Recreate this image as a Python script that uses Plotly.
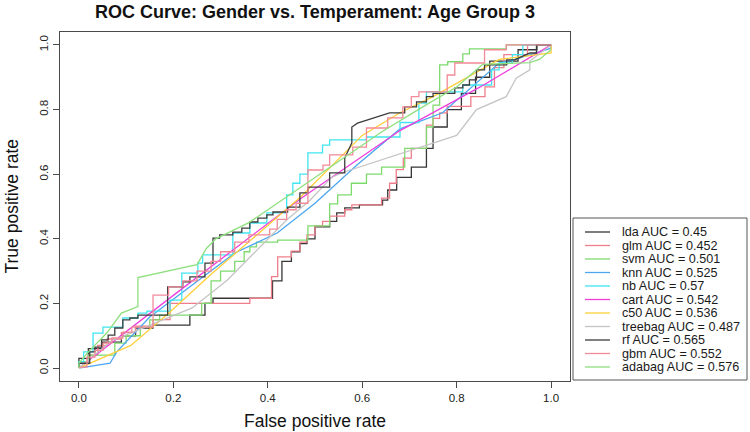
import plotly.graph_objects as go

# ---------------- data ----------------
models = ["lda", "glm", "svm", "knn", "nb", "cart", "c50", "treebag", "rf", "gbm", "adabag"]
aucs = ["0.45", "0.452", "0.501", "0.525", "0.57", "0.542", "0.536", "0.487", "0.565", "0.552", "0.576"]
colors = ["#363636", "#F07E8A", "#7FDA6E", "#4CA6F2", "#3FE5EF", "#EE3FDC",
          "#FFCF3A", "#C4C4C4", "#3C3C3C", "#F28A98", "#8EDF7E"]

x_ticks = [0.0, 0.2, 0.4, 0.6, 0.8, 1.0]
x_ticklabels = ["0.0", "0.2", "0.4", "0.6", "0.8", "1.0"]
y_ticks = [0.0, 0.2, 0.4, 0.6, 0.8, 1.0]
y_ticklabels = ["0.0", "0.2", "0.4", "0.6", "0.8", "1.0"]

lda_roc = [(0, 0), (0, 0.03), (0.02, 0.03), (0.02, 0.06), (0.05, 0.06), (0.05, 0.08), (0.09, 0.08),
           (0.09, 0.1), (0.12, 0.1), (0.12, 0.124), (0.157, 0.124), (0.157, 0.133), (0.235, 0.133),
           (0.235, 0.164), (0.267, 0.164), (0.267, 0.2), (0.284, 0.2), (0.284, 0.216), (0.41, 0.216),
           (0.41, 0.27), (0.43, 0.27), (0.43, 0.33), (0.45, 0.33), (0.45, 0.36), (0.468, 0.36),
           (0.468, 0.385), (0.483, 0.385), (0.483, 0.4), (0.5, 0.4), (0.5, 0.437), (0.531, 0.437),
           (0.531, 0.454), (0.546, 0.454), (0.546, 0.48), (0.563, 0.48), (0.563, 0.496), (0.594, 0.496),
           (0.594, 0.505), (0.643, 0.505), (0.643, 0.52), (0.654, 0.52), (0.654, 0.551), (0.673, 0.551),
           (0.673, 0.59), (0.704, 0.59), (0.704, 0.622), (0.736, 0.622), (0.736, 0.68), (0.75, 0.68),
           (0.75, 0.746), (0.78, 0.746), (0.78, 0.8), (0.81, 0.8), (0.81, 0.85), (0.84, 0.85),
           (0.84, 0.9), (0.87, 0.9), (0.87, 0.95), (0.93, 0.95), (0.93, 0.985), (0.97, 0.985),
           (0.97, 1.0), (1, 1)]

glm_roc = [(0, 0), (0, 0.02), (0.02, 0.02), (0.02, 0.04), (0.04, 0.04), (0.04, 0.07), (0.06, 0.07),
           (0.06, 0.09), (0.09, 0.09), (0.09, 0.11), (0.12, 0.11), (0.12, 0.13), (0.157, 0.13),
           (0.157, 0.15), (0.193, 0.15), (0.193, 0.2), (0.362, 0.2), (0.362, 0.216), (0.408, 0.216),
           (0.408, 0.283), (0.421, 0.283), (0.421, 0.344), (0.45, 0.344), (0.45, 0.362), (0.468, 0.362),
           (0.468, 0.39), (0.483, 0.39), (0.483, 0.412), (0.5, 0.412), (0.5, 0.44), (0.516, 0.44),
           (0.516, 0.454), (0.531, 0.454), (0.531, 0.47), (0.563, 0.47), (0.563, 0.49), (0.578, 0.49),
           (0.578, 0.505), (0.641, 0.505), (0.641, 0.526), (0.658, 0.526), (0.658, 0.572), (0.672, 0.572),
           (0.672, 0.614), (0.687, 0.614), (0.687, 0.65), (0.704, 0.65), (0.704, 0.68), (0.736, 0.68),
           (0.736, 0.752), (0.75, 0.752), (0.75, 0.773), (0.764, 0.773), (0.764, 0.79), (0.78, 0.79),
           (0.78, 0.81), (0.83, 0.81), (0.83, 0.84), (0.86, 0.84), (0.86, 0.87), (0.88, 0.87),
           (0.88, 0.93), (0.9, 0.93), (0.9, 0.97), (0.95, 0.97), (0.95, 1.0), (1, 1)]

svm_roc = [(0, 0), (0, 0.02), (0.02, 0.02), (0.02, 0.04), (0.076, 0.04), (0.076, 0.077), (0.1, 0.077),
           (0.1, 0.1), (0.13, 0.1), (0.13, 0.127), (0.15, 0.127), (0.15, 0.149), (0.171, 0.149),
           (0.171, 0.164), (0.26, 0.164), (0.26, 0.2), (0.28, 0.2), (0.28, 0.27), (0.3, 0.27),
           (0.3, 0.3), (0.33, 0.3), (0.33, 0.33), (0.35, 0.33), (0.35, 0.36), (0.362, 0.36),
           (0.362, 0.375), (0.376, 0.375), (0.376, 0.39), (0.421, 0.39), (0.421, 0.396), (0.485, 0.396),
           (0.485, 0.44), (0.531, 0.44), (0.531, 0.508), (0.548, 0.508), (0.548, 0.536), (0.577, 0.536),
           (0.577, 0.572), (0.609, 0.572), (0.609, 0.6), (0.641, 0.6), (0.641, 0.622), (0.69, 0.622),
           (0.69, 0.68), (0.736, 0.68), (0.736, 0.746), (0.75, 0.746), (0.75, 0.814), (0.764, 0.814),
           (0.764, 0.938), (0.781, 0.938), (0.781, 0.948), (0.813, 0.948), (0.813, 0.972), (0.827, 0.972),
           (0.827, 0.988), (0.905, 0.988), (0.905, 1.0), (1, 1)]

knn_roc = [(0, 0), (0.066, 0.015), (0.08, 0.05), (0.15, 0.158), (0.33, 0.356), (0.42, 0.418),
           (0.5, 0.51), (0.59, 0.63), (0.68, 0.74), (0.77, 0.79), (0.89, 0.944), (0.92, 0.954),
           (1, 0.99), (1, 1)]

nb_roc = [(0, 0), (0, 0.02), (0.01, 0.02), (0.01, 0.05), (0.03, 0.05), (0.03, 0.108), (0.051, 0.108),
          (0.051, 0.127), (0.093, 0.127), (0.093, 0.155), (0.125, 0.155), (0.125, 0.17), (0.144, 0.17),
          (0.144, 0.176), (0.193, 0.176), (0.193, 0.21), (0.218, 0.21), (0.218, 0.294), (0.252, 0.294),
          (0.252, 0.325), (0.262, 0.325), (0.262, 0.35), (0.326, 0.35), (0.326, 0.418), (0.362, 0.418),
          (0.362, 0.449), (0.398, 0.449), (0.398, 0.48), (0.44, 0.48), (0.44, 0.536), (0.453, 0.536),
          (0.453, 0.572), (0.468, 0.572), (0.468, 0.6), (0.485, 0.6), (0.485, 0.666), (0.516, 0.666),
          (0.516, 0.69), (0.531, 0.69), (0.531, 0.706), (0.609, 0.706), (0.609, 0.715), (0.68, 0.715),
          (0.68, 0.76), (0.72, 0.76), (0.72, 0.82), (0.736, 0.82), (0.736, 0.855), (0.813, 0.855),
          (0.813, 0.876), (0.874, 0.876), (0.874, 0.923), (0.89, 0.923), (0.89, 0.944), (0.918, 0.944),
          (0.918, 0.97), (0.94, 0.97), (0.94, 1.0), (1, 1)]

cart_roc = [(0, 0), (0.2, 0.225), (0.47, 0.525), (0.68, 0.735), (0.85, 0.87), (1, 1)]

c50_roc = [(0, 0), (0.11, 0.07), (0.19, 0.17), (0.28, 0.29), (0.47, 0.53), (0.6, 0.72), (0.68, 0.79),
           (0.75, 0.84), (0.89, 0.955), (1, 0.975), (1, 1)]

treebag_roc = [(0, 0), (0.07, 0.085), (0.24, 0.186), (0.314, 0.272), (0.44, 0.458), (0.49, 0.52),
               (0.535, 0.59), (0.56, 0.606), (0.8, 0.72), (0.842, 0.8), (0.905, 0.84), (0.926, 0.897),
               (0.955, 0.923), (0.955, 0.95), (1, 1)]

rf_roc = [(0, 0), (0, 0.015), (0.023, 0.015), (0.023, 0.05), (0.034, 0.05), (0.034, 0.065), (0.048, 0.065),
          (0.048, 0.087), (0.062, 0.087), (0.062, 0.102), (0.076, 0.102), (0.076, 0.124), (0.093, 0.124),
          (0.093, 0.149), (0.108, 0.149), (0.108, 0.155), (0.125, 0.155), (0.125, 0.164), (0.188, 0.164),
          (0.188, 0.251), (0.22, 0.251), (0.22, 0.267), (0.235, 0.267), (0.235, 0.282), (0.267, 0.282),
          (0.267, 0.325), (0.284, 0.325), (0.284, 0.402), (0.298, 0.402), (0.298, 0.412), (0.326, 0.412),
          (0.326, 0.421), (0.345, 0.421), (0.345, 0.433), (0.362, 0.433), (0.362, 0.452), (0.379, 0.452),
          (0.379, 0.464), (0.398, 0.464), (0.398, 0.474), (0.411, 0.474), (0.411, 0.483), (0.442, 0.483),
          (0.442, 0.498), (0.468, 0.498), (0.468, 0.542), (0.485, 0.542), (0.485, 0.56), (0.531, 0.56),
          (0.531, 0.604), (0.563, 0.604), (0.563, 0.65), (0.578, 0.697), (0.578, 0.746), (0.59, 0.758),
          (0.658, 0.79), (0.69, 0.79), (0.69, 0.808), (0.715, 0.808), (0.715, 0.824), (0.736, 0.824),
          (0.736, 0.84), (0.75, 0.84), (0.75, 0.85), (0.796, 0.85), (0.796, 0.867), (0.813, 0.867),
          (0.813, 0.876), (0.827, 0.876), (0.827, 0.892), (0.842, 0.892), (0.842, 0.923), (0.859, 0.923),
          (0.859, 0.938), (0.906, 0.938), (0.906, 0.954), (0.923, 0.954), (0.955, 0.975), (0.969, 0.975),
          (0.969, 1.0), (1, 1)]

gbm_roc = [(0, 0), (0, 0.003), (0.017, 0.003), (0.017, 0.034), (0.034, 0.034), (0.034, 0.055), (0.051, 0.055),
           (0.051, 0.077), (0.07, 0.077), (0.07, 0.093), (0.093, 0.093), (0.093, 0.111), (0.112, 0.111),
           (0.112, 0.127), (0.157, 0.127), (0.157, 0.226), (0.19, 0.226), (0.19, 0.251), (0.22, 0.251),
           (0.22, 0.27), (0.25, 0.27), (0.25, 0.3), (0.28, 0.3), (0.28, 0.33), (0.3, 0.33), (0.3, 0.36),
           (0.33, 0.36), (0.33, 0.39), (0.36, 0.39), (0.36, 0.412), (0.404, 0.412), (0.404, 0.43),
           (0.42, 0.43), (0.42, 0.46), (0.44, 0.46), (0.44, 0.49), (0.46, 0.49), (0.46, 0.51), (0.485, 0.51),
           (0.485, 0.613), (0.517, 0.613), (0.517, 0.628), (0.531, 0.628), (0.531, 0.66), (0.58, 0.66),
           (0.58, 0.684), (0.609, 0.684), (0.609, 0.743), (0.654, 0.743), (0.654, 0.774), (0.686, 0.774),
           (0.686, 0.808), (0.704, 0.808), (0.704, 0.84), (0.72, 0.84), (0.72, 0.855), (0.78, 0.855),
           (0.78, 0.907), (0.796, 0.907), (0.796, 0.944), (0.859, 0.944), (0.859, 0.985), (0.905, 0.985),
           (0.905, 1.0), (1, 1)]

adabag_roc = [(0, 0), (0, 0.015), (0.02, 0.05), (0.06, 0.11), (0.09, 0.17), (0.125, 0.19), (0.125, 0.28),
              (0.25, 0.32), (0.27, 0.37), (0.29, 0.40), (0.36, 0.45), (0.43, 0.52), (0.47, 0.56),
              (0.55, 0.64), (0.64, 0.73), (0.73, 0.81), (0.8, 0.87), (0.855, 0.94), (0.955, 0.945),
              (0.975, 0.955), (1.0, 0.985)]

curves = [lda_roc, glm_roc, svm_roc, knn_roc, nb_roc, cart_roc, c50_roc, treebag_roc, rf_roc, gbm_roc, adabag_roc]

# ---------------- layout geometry (pixels) ----------------
W, H = 750, 432
L, R, T, B = 60, 570, 32, 381          # plot box in pixels


def px_x(p):
    return (p - L) / (R - L)


def px_y(p):
    return (B - p) / (B - T)


FONT = "Liberation Sans, Arial, sans-serif"

fig = go.Figure()
for name, auc, col, pts in zip(models, aucs, colors, curves):
    fig.add_trace(go.Scatter(
        x=[p[0] for p in pts], y=[p[1] for p in pts],
        mode="lines", name=f"{name} AUC = {auc}",
        line=dict(color=col, width=1.3),
        showlegend=False, hoverinfo="skip",
    ))

# manual legend (R style box)
shapes = [dict(type="rect", xref="paper", yref="paper",
               x0=px_x(573), x1=px_x(747), y0=px_y(380), y1=px_y(218),
               line=dict(color="#555555", width=1), fillcolor="white", layer="above")]
annotations = []
for i, (name, auc, col) in enumerate(zip(models, aucs, colors)):
    yy = 232 + i * 13.5
    shapes.append(dict(type="line", xref="paper", yref="paper",
                       x0=px_x(585), x1=px_x(610), y0=px_y(yy), y1=px_y(yy),
                       line=dict(color=col, width=1.3), layer="above"))
    annotations.append(dict(xref="paper", yref="paper", x=px_x(621), y=px_y(yy),
                            text=f"{name} AUC = {auc}", showarrow=False,
                            xanchor="left", yanchor="middle", borderpad=0,
                            font=dict(family=FONT, size=12.6, color="#1a1a1a")))

# axis titles as annotations (R places them at fixed margin lines)
annotations.append(dict(xref="paper", yref="paper", x=0.5, y=px_y(421),
                        text="False positive rate", showarrow=False,
                        xanchor="center", yanchor="middle",
                        font=dict(family=FONT, size=17.5, color="#111111")))
annotations.append(dict(xref="paper", yref="paper", x=px_x(11), y=0.5,
                        text="True positive rate", showarrow=False, textangle=-90,
                        xanchor="center", yanchor="middle",
                        font=dict(family=FONT, size=17.5, color="#111111")))

axis_common = dict(showgrid=False, zeroline=False, showline=True, mirror=True,
                   linecolor="#4a4a4a", linewidth=1, ticks="outside", ticklen=6,
                   tickcolor="#4a4a4a", tickwidth=1, automargin=False,
                   tickfont=dict(family=FONT, size=11.5, color="#222222"))

fig.update_layout(
    width=W, height=H,
    margin=dict(l=L, r=W - R, t=T, b=H - B, pad=0, autoexpand=False),
    paper_bgcolor="white", plot_bgcolor="white",
    title=dict(text="<b>ROC Curve: Gender vs. Temperament: Age Group 3</b>",
               x=0.5, xref="paper", xanchor="center",
               y=1 - 12 / H, yref="container", yanchor="middle",
               font=dict(family=FONT, size=18, color="#111111")),
    xaxis=dict(range=[-0.04, 1.04], tickvals=x_ticks, ticktext=x_ticklabels, **axis_common),
    yaxis=dict(range=[-0.04, 1.04], tickvals=y_ticks, ticktext=y_ticklabels, tickangle=-90,
               **axis_common),
    shapes=shapes, annotations=annotations, showlegend=False,
)

# remove the browser's default 8px page margin so the figure fills the window exactly
fig.write_html("out.html", config={"displayModeBar": False},
               post_script="document.body.style.margin='0';document.body.style.overflow='hidden';")
